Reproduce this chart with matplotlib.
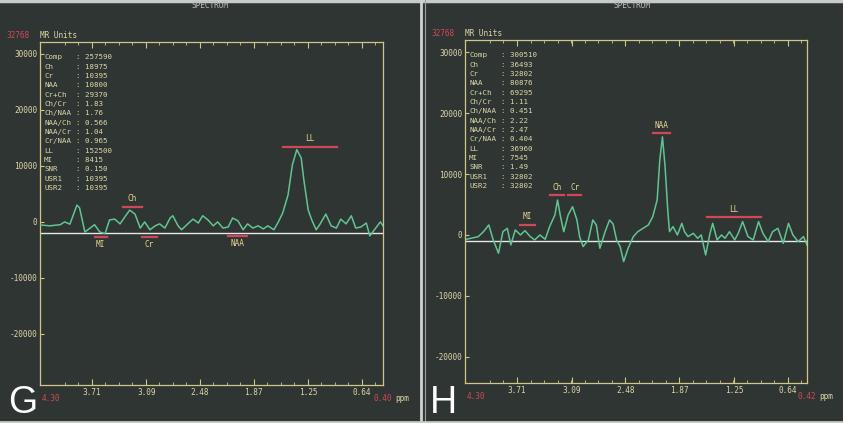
import numpy as np
import matplotlib.pyplot as plt
from matplotlib.ticker import FixedLocator

# spectrum G: chemical shift (ppm) and signal (MR units)
g_ppm = [4.30, 4.19, 4.07, 4.02, 3.96, 3.88, 3.85, 3.79, 3.73, 3.68, 3.62, 3.56,
         3.51, 3.45, 3.39, 3.33, 3.28, 3.22, 3.16, 3.11, 3.05, 2.99, 2.94, 2.88,
         2.82, 2.79, 2.73, 2.69, 2.62, 2.56, 2.50, 2.45, 2.39, 2.33, 2.28, 2.22,
         2.16, 2.11, 2.05, 1.99, 1.94, 1.88, 1.82, 1.76, 1.71, 1.64, 1.59, 1.54,
         1.48, 1.43, 1.38, 1.33, 1.30, 1.25, 1.21, 1.16, 1.12, 1.05, 0.99, 0.93,
         0.88, 0.82, 0.76, 0.71, 0.65, 0.59, 0.55, 0.49, 0.43, 0.40]
g_val = [-540, -700, -500, 0, -400, 3000, 2500, -1800, -1100, -500, -1800, -2100,
         350, 500, -350, 1000, 2100, 1400, -1100, 0, -1400, -700, -350, -1100,
         700, 1100, -700, -1400, -350, 500, -200, 1100, 350, -700, 0, -1100,
         -900, 700, 200, -1400, -350, -1100, -700, -1250, -700, -1400, 0, 1600,
         4800, 10200, 12900, 11400, 7500, 2100, 350, -1400, -500, 1400, -700, -1100,
         500, -350, 1100, -1100, -900, -200, -2500, -1250, 0, -700]

# spectrum H
h_ppm = [4.28, 4.15, 4.09, 4.03, 3.98, 3.92, 3.87, 3.82, 3.78, 3.73, 3.67, 3.62,
         3.56, 3.51, 3.45, 3.39, 3.34, 3.28, 3.25, 3.22, 3.18, 3.13, 3.08, 3.03,
         3.00, 2.96, 2.90, 2.85, 2.81, 2.77, 2.71, 2.66, 2.62, 2.58, 2.54, 2.50,
         2.45, 2.39, 2.34, 2.28, 2.22, 2.17, 2.12, 2.09, 2.06, 2.03, 2.00, 1.98,
         1.94, 1.89, 1.84, 1.81, 1.77, 1.71, 1.66, 1.62, 1.57, 1.52, 1.49, 1.44,
         1.39, 1.35, 1.30, 1.24, 1.20, 1.15, 1.09, 1.03, 0.97, 0.92, 0.86, 0.81,
         0.75, 0.69, 0.63, 0.58, 0.52, 0.46, 0.42]
h_val = [-700, -280, 540, 1640, -820, -3000, 540, 1090, -1640, 820, 0, 710,
         -270, -820, 0, -710, 1370, 3280, 5740, 3280, 540, 3280, 4640, 2460,
         -270, -1910, -820, 2460, 1640, -2190, 540, 2460, 1800, -820, -1910, -4370,
         -2190, -270, 540, 1090, 1640, 3000, 5740, 12300, 16100, 11200, 4100, 540,
         1370, 0, 1910, 540, -270, 270, -550, 0, -3280, 270, 1910, -820,
         0, -550, 540, -820, 270, 2190, -270, -820, 2190, 270, -1090, 540,
         1090, -1370, 1910, 0, -1090, -270, -1640]

xtick_vals = [3.71, 3.09, 2.48, 1.87, 1.25, 0.64]
ytick_vals = [30000, 20000, 10000, 0, -10000, -20000]

info_keys = ["Comp", "Ch", "Cr", "NAA", "Cr+Ch", "Ch/Cr", "Ch/NAA", "NAA/Ch",
             "NAA/Cr", "Cr/NAA", "LL", "MI", "SNR", "USR1", "USR2"]
g_info = ["257590", "18975", "10395", "10800", "29370", "1.83", "1.76", "0.566",
          "1.04", "0.965", "152500", "8415", "0.150", "10395", "10395"]
h_info = ["300510", "36493", "32802", "80876", "69295", "1.11", "0.451", "2.22",
          "2.47", "0.404", "36960", "7545", "1.49", "32802", "32802"]

# peak markers: name, ppm from, ppm to, level, label above/below the bar
g_peaks = [("Ch", 3.36, 3.14, 2680, 1), ("MI", 3.68, 3.54, -2680, -1),
           ("Cr", 3.14, 2.97, -2680, -1), ("NAA", 2.16, 1.95, -2500, -1),
           ("LL", 1.54, 0.92, 13400, 1)]
h_peaks = [("MI", 3.68, 3.51, 1640, 1), ("Ch", 3.34, 3.18, 6560, 1),
           ("Cr", 3.13, 2.98, 6560, 1), ("NAA", 2.17, 1.97, 16700, 1),
           ("LL", 1.56, 0.94, 2950, 1)]

W, H = 843, 423
BG = "#2f3532"
YEL = "#cfc788"
TXT = "#ddd7a8"
RED = "#d04858"
GRN = "#62c493"
MONO = "DejaVu Sans Mono"

fig = plt.figure(figsize=(W / 100, H / 100), dpi=100, facecolor=BG)


def px_axes(x0, y0, x1, y1):
    return fig.add_axes([x0 / W, 1 - y1 / H, (x1 - x0) / W, (y1 - y0) / H])


def panel(box, ppm, val, xlim, ylim, base, info, peaks, letter, cx):
    ax = px_axes(*box)
    ax.set_facecolor(BG)
    ax.plot(ppm, val, color=GRN, lw=1.1, zorder=3)
    ax.axhline(base, color="#e4ebe6", lw=1.0, zorder=2)
    ax.set_xlim(*xlim)
    ax.set_ylim(*ylim)
    for s in ax.spines.values():
        s.set_color(YEL)
        s.set_linewidth(0.9)

    ax.set_xticks(xtick_vals)
    ax.set_xticklabels([f"{v:.2f}" for v in xtick_vals])
    step = (xtick_vals[0] - xtick_vals[-1]) / 5
    minor = [xtick_vals[0] - k * step / 4 for k in range(-2, 23)]
    ax.xaxis.set_minor_locator(FixedLocator(minor))
    ax.set_yticks(ytick_vals)
    ax.set_yticklabels([str(v) for v in ytick_vals])
    ax.tick_params(axis="both", which="both", direction="in", colors=YEL,
                   labelcolor=TXT, top=True, labelsize=5.6, pad=2)
    ax.tick_params(axis="x", which="major", length=4)
    ax.tick_params(axis="x", which="minor", length=2)
    ax.tick_params(axis="y", length=3)
    for lab in ax.get_xticklabels() + ax.get_yticklabels():
        lab.set_family(MONO)

    # red end labels of the ppm axis
    ax.text(0.006, -0.025, f"{xlim[0]:.2f}", transform=ax.transAxes, color=RED,
            fontsize=5.6, family=MONO, ha="left", va="top")
    ax.text(1.0, -0.025, f"{xlim[1]:.2f}", transform=ax.transAxes, color=RED,
            fontsize=5.6, family=MONO, ha="center", va="top")
    ax.text(1.035, -0.025, "ppm", transform=ax.transAxes, color=TXT,
            fontsize=5.6, family=MONO, ha="left", va="top")
    ax.text(-0.03, 1.005, "32768", transform=ax.transAxes, color=RED,
            fontsize=5.6, family=MONO, ha="right", va="bottom")
    ax.text(0.0, 1.005, "MR Units", transform=ax.transAxes, color=TXT,
            fontsize=5.6, family=MONO, ha="left", va="bottom")

    # quantification table
    for i, (k, v) in enumerate(zip(info_keys, info)):
        y = 0.955 - i * 0.0272
        ax.text(0.012, y, k, transform=ax.transAxes, color=TXT, fontsize=5.4,
                family=MONO, va="center")
        ax.text(0.105, y, ": " + v, transform=ax.transAxes, color=TXT,
                fontsize=5.4, family=MONO, va="center")

    for name, p0, p1, lvl, side in peaks:
        ax.plot([p0, p1], [lvl, lvl], color=RED, lw=1.6, zorder=4)
        ax.annotate(name, ((p0 + p1) / 2, lvl), xytext=(0, 2.5 * side),
                    textcoords="offset points", ha="center",
                    va="bottom" if side > 0 else "top", color="#e8d690",
                    fontsize=5.6, family=MONO)

    fig.text(cx / W, 1 - 6 / H, "SPECTRUM", color="#b8bcb6", fontsize=5.6,
             family=MONO, ha="center", va="center")
    fig.text((cx - 202) / W, 1 - 421 / H, letter, color="white", fontsize=27,
             family="Liberation Sans", ha="left", va="bottom")
    return ax


panel((40, 42, 383, 385), g_ppm, g_val, (4.30, 0.40), (-29100, 32100), -2000,
      g_info, g_peaks, "G", 210)
panel((465, 40, 807, 383), h_ppm, h_val, (4.30, 0.42), (-24300, 32000), -980,
      h_info, h_peaks, "H", 632)

# scan borders
fig.add_artist(plt.Line2D([0, 1], [1 - 1 / H, 1 - 1 / H], color="#c8ccc8", lw=2.5))
fig.add_artist(plt.Line2D([421 / W, 421 / W], [0, 1], color="#cfd3cf", lw=2.0))
fig.add_artist(plt.Line2D([424.5 / W, 424.5 / W], [0, 1], color="#9aa09c", lw=0.8))
fig.add_artist(plt.Line2D([0, 1], [1.5 / H, 1.5 / H], color="#c8ccc8", lw=2.0))

fig.savefig("out.png", dpi=100, facecolor=BG)
